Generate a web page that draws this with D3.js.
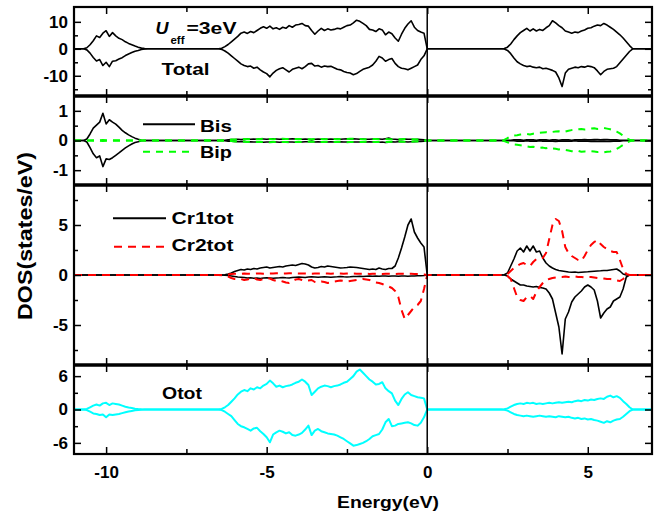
<!DOCTYPE html>
<html><head><meta charset="utf-8">
<script src="https://cdn.jsdelivr.net/npm/d3@7"></script>
<style>body{margin:0;background:#fff}svg{display:block}text{font-family:"Liberation Sans",Arial,sans-serif}</style>
</head><body><svg id="c" width="659" height="515"></svg>
<script>
// energy grid (eV): -11, segment -10.7..-8.7, segment -6.5..0, segment 2.3..6.4, 7
const energy = [-11,
  ...d3.range(-107, -86).map(v => v / 10),
  ...d3.range(-65, 1).map(v => v / 10),
  ...d3.range(23, 65).map(v => v / 10),
  7];

const xTicksMajor = [-10, -5, 0, 5];
const xTicksMinor = [-7.5, -2.5, 2.5];

// Total DOS
const totalUp = [0,
 0,0.4,1.5,3.0,4.8,4.2,5.8,6.7,4.6,6.0,4.8,3.9,3.4,2.6,2.0,1.5,1.0,0.6,0.25,0.08,0,
 0,0.2,0.8,1.6,2.6,3.6,4.6,5.8,6.2,5.7,6.4,6.0,6.8,7.6,8.2,7.6,8.4,7.4,7.8,7.2,8.0,7.6,8.6,8.0,8.8,9.0,9.4,8.6,8.4,6.8,5.4,6.6,7.6,6.8,7.4,7.0,7.2,7.6,7.4,8.0,8.6,8.8,9.6,10.6,10.2,9.4,8.6,7.2,7.0,6.4,7.4,7.0,5.2,6.2,5.6,4.0,2.8,5.4,7.6,9.2,10.4,8.0,6.8,6.2,5.8,0,
 0,0.1,0.6,1.8,3.4,4.8,6.0,6.8,7.6,6.6,7.4,6.6,7.2,6.8,7.8,8.6,10.4,9.6,8.6,7.8,6.6,6.2,5.8,6.2,6.0,6.6,7.0,7.6,7.8,8.4,8.8,8.6,9.4,8.8,8.0,7.2,6.2,5.2,4.0,2.6,1.2,0,
 0];
const totalDn = [0,
 0,-0.4,-1.6,-3.2,-4.5,-4.0,-6.2,-5.0,-6.6,-4.6,-4.4,-3.8,-3.3,-2.5,-1.9,-1.4,-0.9,-0.6,-0.25,-0.08,0,
 0,-0.2,-0.8,-1.6,-2.6,-3.6,-4.6,-5.6,-6.2,-6.6,-6.4,-7.2,-6.8,-7.8,-8.6,-9.2,-10.4,-9.0,-8.0,-7.4,-7.0,-7.8,-8.6,-7.6,-7.2,-6.8,-7.4,-6.6,-5.6,-5.4,-6.4,-6.2,-6.8,-6.4,-6.6,-6.5,-7.0,-7.6,-7.8,-8.4,-8.8,-9.0,-9.6,-9.2,-8.4,-7.6,-7.2,-6.8,-6.0,-4.6,-2.8,-3.4,-4.6,-4.0,-3.6,-5.4,-6.6,-7.2,-7.4,-7.8,-7.2,-6.6,-6.0,-4.0,-2.6,0,
 0,-0.1,-0.6,-1.8,-3.4,-4.8,-5.6,-6.2,-6.6,-6.4,-6.8,-7.0,-6.8,-7.4,-7.2,-7.6,-8.0,-8.6,-10.8,-14.0,-9.0,-7.6,-7.2,-6.8,-7.0,-6.6,-6.8,-6.4,-6.6,-7.0,-8.2,-9.6,-8.4,-7.6,-7.4,-7.2,-6.6,-5.2,-3.8,-2.4,-1.0,0,
 0];

// Bi s / Bi p
const bisUp = [0,
 0,0.05,0.22,0.42,0.52,0.62,0.92,0.56,0.70,0.62,0.55,0.45,0.34,0.26,0.19,0.13,0.08,0.04,0.01,0,0,
 0,0,0.01,0.02,0.03,0.03,0.04,0.03,0.04,0.05,0.04,0.05,0.04,0.06,0.05,0.04,0.05,0.06,0.05,0.04,0.05,0.04,0.05,0.06,0.05,0.05,0.04,0.05,0.04,0.03,0.04,0.05,0.04,0.05,0.04,0.05,0.04,0.05,0.04,0.05,0.06,0.05,0.06,0.05,0.04,0.05,0.04,0.04,0.05,0.06,0.05,0.04,0.06,0.08,0.05,0.04,0.03,0.04,0.05,0.04,0.04,0.03,0.04,0.03,0.02,0,
 0,0,0.01,0.01,0.02,0.02,0.02,0.01,0.02,0.02,0.02,0.01,0.02,0.02,0.02,0.01,0.02,0.02,0.01,0.02,0.02,0.02,0.01,0.02,0.02,0.02,0.03,0.02,0.02,0.03,0.03,0.02,0.03,0.03,0.02,0.02,0.02,0.01,0.01,0.01,0,0,
 0];
const bisDn = [0,
 0,-0.05,-0.24,-0.45,-0.58,-0.52,-0.88,-0.62,-0.64,-0.58,-0.50,-0.42,-0.33,-0.25,-0.18,-0.12,-0.07,-0.04,-0.01,0,0,
 0,0,-0.01,-0.02,-0.02,-0.03,-0.04,-0.04,-0.03,-0.05,-0.04,-0.05,-0.05,-0.04,-0.06,-0.05,-0.05,-0.04,-0.05,-0.06,-0.05,-0.04,-0.05,-0.05,-0.06,-0.04,-0.05,-0.04,-0.04,-0.03,-0.05,-0.04,-0.05,-0.04,-0.05,-0.04,-0.05,-0.05,-0.04,-0.05,-0.05,-0.06,-0.05,-0.05,-0.05,-0.04,-0.05,-0.04,-0.05,-0.05,-0.06,-0.05,-0.07,-0.06,-0.04,-0.05,-0.04,-0.03,-0.04,-0.05,-0.04,-0.04,-0.03,-0.03,-0.02,0,
 0,0,-0.01,-0.01,-0.01,-0.02,-0.02,-0.02,-0.01,-0.02,-0.02,-0.02,-0.01,-0.02,-0.02,-0.02,-0.02,-0.03,-0.02,-0.02,-0.02,-0.02,-0.02,-0.01,-0.02,-0.02,-0.02,-0.02,-0.03,-0.02,-0.03,-0.03,-0.02,-0.03,-0.03,-0.02,-0.02,-0.02,-0.01,-0.01,0,0,
 0];
const bipUp = [0,
 0,0,0,0.01,0.01,0.01,0.02,0.01,0.01,0.01,0.01,0.01,0,0,0,0,0,0,0,0,0,
 0,0.01,0.01,0.02,0.03,0.03,0.04,0.04,0.05,0.04,0.05,0.05,0.04,0.05,0.06,0.05,0.05,0.04,0.05,0.05,0.06,0.05,0.05,0.06,0.05,0.05,0.05,0.04,0.04,0.04,0.05,0.05,0.05,0.04,0.05,0.05,0.05,0.04,0.05,0.05,0.05,0.06,0.06,0.05,0.05,0.04,0.04,0.05,0.05,0.05,0.04,0.05,0.05,0.04,0.04,0.03,0.04,0.04,0.05,0.04,0.04,0.04,0.03,0.03,0.02,0,
 0,0.02,0.08,0.15,0.17,0.18,0.20,0.21,0.22,0.20,0.23,0.25,0.26,0.27,0.28,0.26,0.29,0.30,0.31,0.29,0.30,0.33,0.35,0.36,0.38,0.39,0.37,0.38,0.40,0.41,0.39,0.40,0.42,0.40,0.38,0.35,0.30,0.24,0.16,0.08,0.03,0,
 0];
const bipDn = [0,
 0,0,0,-0.01,-0.01,-0.01,-0.02,-0.01,-0.01,-0.01,-0.01,-0.01,0,0,0,0,0,0,0,0,0,
 0,-0.01,-0.01,-0.02,-0.02,-0.03,-0.03,-0.04,-0.04,-0.05,-0.04,-0.05,-0.05,-0.04,-0.05,-0.05,-0.06,-0.05,-0.05,-0.04,-0.05,-0.05,-0.06,-0.05,-0.05,-0.04,-0.05,-0.05,-0.04,-0.04,-0.04,-0.05,-0.05,-0.05,-0.04,-0.05,-0.05,-0.05,-0.04,-0.05,-0.06,-0.05,-0.05,-0.06,-0.05,-0.05,-0.04,-0.04,-0.05,-0.05,-0.05,-0.04,-0.05,-0.05,-0.04,-0.04,-0.03,-0.04,-0.04,-0.05,-0.04,-0.03,-0.03,-0.03,-0.02,0,
 0,-0.02,-0.06,-0.10,-0.13,-0.14,-0.16,-0.18,-0.20,-0.22,-0.21,-0.23,-0.25,-0.24,-0.26,-0.23,-0.27,-0.28,-0.30,-0.29,-0.32,-0.34,-0.36,-0.37,-0.35,-0.38,-0.37,-0.38,-0.36,-0.37,-0.39,-0.38,-0.40,-0.38,-0.37,-0.33,-0.28,-0.22,-0.15,-0.08,-0.03,0,
 0];

// Cr1 / Cr2 total
const cr1Up = [0,
 0,0,0,0,0,0,0,0,0,0,0,0,0,0,0,0,0,0,0,0,0,
 0,0,0.02,0.1,0.2,0.35,0.45,0.55,0.5,0.6,0.55,0.65,0.6,0.7,0.75,0.8,0.7,0.75,0.8,0.85,0.8,0.9,0.95,1.0,0.95,1.05,1.15,1.1,1.0,0.8,0.7,0.75,0.85,0.8,0.9,0.85,0.8,0.75,0.7,0.72,0.75,0.8,0.78,0.75,0.7,0.65,0.6,0.55,0.6,0.55,0.7,0.6,0.55,0.65,0.65,0.9,1.7,2.7,3.8,5.0,5.6,4.3,3.7,3.2,2.8,0,
 0,0.02,0.2,0.9,1.6,2.4,2.7,2.3,2.9,2.4,2.9,2.3,2.4,1.7,1.2,0.9,0.7,0.55,0.45,0.4,0.35,0.3,0.28,0.3,0.25,0.28,0.3,0.32,0.35,0.38,0.4,0.42,0.45,0.45,0.5,0.55,0.6,0.4,0.1,0,0,0,
 0];
const cr1Dn = [0,
 0,0,0,0,0,0,0,0,0,0,0,0,0,0,0,0,0,0,0,0,0,
 0,0,-0.02,-0.05,-0.1,-0.15,-0.2,-0.22,-0.25,-0.3,-0.28,-0.32,-0.3,-0.35,-0.3,-0.28,-0.3,-0.32,-0.3,-0.28,-0.25,-0.28,-0.3,-0.25,-0.22,-0.2,-0.22,-0.25,-0.2,-0.18,-0.2,-0.22,-0.2,-0.18,-0.2,-0.22,-0.2,-0.18,-0.15,-0.18,-0.2,-0.18,-0.15,-0.15,-0.12,-0.15,-0.12,-0.1,-0.12,-0.1,-0.12,-0.1,-0.1,-0.12,-0.1,-0.1,-0.12,-0.1,-0.1,-0.12,-0.1,-0.1,-0.08,-0.08,-0.05,0,
 0,0,-0.1,-0.4,-0.6,-0.8,-1.0,-1.0,-1.1,-1.15,-1.2,-1.15,-1.25,-1.3,-1.4,-1.8,-2.4,-3.8,-5.2,-7.9,-4.4,-3.7,-2.7,-2.2,-1.9,-1.6,-1.2,-1.0,-1.2,-1.5,-2.6,-4.3,-3.8,-3.4,-3.2,-2.6,-2.4,-2.2,-1.4,-0.2,0,0,
 0];
const cr2Up = [0,
 0,0,0,0,0,0,0,0,0,0,0,0,0,0,0,0,0,0,0,0,0,
 0,0.01,0.03,0.06,0.1,0.12,0.14,0.12,0.15,0.13,0.12,0.14,0.16,0.15,0.13,0.12,0.14,0.15,0.17,0.16,0.14,0.15,0.17,0.18,0.16,0.15,0.14,0.16,0.15,0.13,0.14,0.15,0.16,0.15,0.14,0.13,0.14,0.15,0.14,0.13,0.14,0.15,0.14,0.13,0.12,0.13,0.12,0.11,0.12,0.13,0.12,0.11,0.12,0.13,0.12,0.11,0.12,0.13,0.12,0.11,0.12,0.11,0.1,0.09,0.06,0,
 0,0,0.1,0.4,0.7,0.9,1.1,1.2,1.0,0.9,1.3,1.6,1.7,1.7,2.2,3.6,5.0,5.6,5.4,4.4,2.8,2.2,1.9,1.7,1.5,1.4,1.9,2.5,3.0,3.3,3.5,3.1,2.8,2.6,2.4,2.3,2.3,1.5,0.6,0.1,0,0,
 0];
const cr2Dn = [0,
 0,0,0,0,0,0,0,0,0,0,0,0,0,0,0,0,0,0,0,0,0,
 0,-0.02,-0.05,-0.15,-0.3,-0.4,-0.45,-0.4,-0.5,-0.45,-0.35,-0.3,-0.45,-0.5,-0.4,-0.3,-0.35,-0.5,-0.6,-0.55,-0.65,-0.75,-0.8,-0.6,-0.45,-0.4,-0.5,-0.6,-0.55,-0.5,-0.7,-0.75,-0.65,-0.7,-0.8,-0.75,-0.65,-0.6,-0.55,-0.6,-0.65,-0.6,-0.55,-0.5,-0.45,-0.4,-0.45,-0.5,-0.6,-0.75,-0.8,-0.9,-1.05,-1.15,-1.3,-1.6,-2.2,-3.5,-4.4,-4.0,-3.6,-3.2,-3.0,-2.6,-1.4,0,
 0,0,-0.1,-0.4,-1.3,-2.2,-2.5,-2.6,-2.2,-2.1,-2.4,-1.7,-1.2,-0.8,-0.5,-0.4,-0.3,-0.25,-0.2,-0.2,-0.15,-0.2,-0.2,-0.15,-0.2,-0.2,-0.25,-0.2,-0.2,-0.25,-0.3,-0.3,-0.35,-0.4,-0.4,-0.45,-0.55,-0.6,-0.4,-0.1,0,0,
 0];

// O total
const oUp = [0,
 0,0.1,0.4,0.7,0.9,0.7,1.1,1.2,0.8,1.1,1.0,0.9,0.7,0.5,0.35,0.25,0.15,0.08,0.03,0,0,
 0,0.1,0.4,0.8,1.4,2.0,2.7,3.2,3.5,3.3,3.8,3.6,4.0,3.8,4.3,4.6,5.2,4.7,4.1,4.3,4.0,4.2,4.3,4.5,4.8,5.0,5.4,5.0,4.4,2.6,3.2,3.8,4.1,4.3,4.2,4.0,4.2,4.3,4.5,4.8,5.0,5.5,6.0,6.8,7.2,6.6,6.0,5.4,5.0,4.5,4.6,4.9,3.8,3.3,2.9,1.6,0.8,1.9,2.7,3.1,2.6,2.4,2.2,2.1,2.0,0,
 0,0.05,0.2,0.5,0.8,1.0,1.1,1.0,1.2,1.1,1.2,1.0,1.1,1.0,1.1,1.2,1.1,1.2,1.3,1.2,1.3,1.4,1.3,1.5,1.6,1.5,1.7,1.6,1.8,1.7,1.9,2.0,1.9,2.3,2.5,2.2,2.4,2.1,1.5,1.0,0.4,0,
 0];
const oDn = [0,
 0,-0.1,-0.4,-0.7,-0.8,-1.0,-0.9,-1.4,-0.9,-1.0,-0.9,-0.8,-0.65,-0.5,-0.35,-0.25,-0.15,-0.08,-0.03,0,0,
 0,-0.1,-0.4,-0.8,-1.2,-1.9,-2.6,-3.0,-3.2,-3.5,-3.8,-3.4,-3.3,-3.9,-4.4,-5.0,-5.9,-4.5,-4.1,-3.8,-4.0,-4.3,-4.1,-4.6,-4.7,-4.5,-4.2,-3.6,-2.9,-4.6,-3.8,-3.5,-3.9,-4.1,-4.3,-4.4,-4.5,-4.7,-5.0,-5.3,-5.7,-6.1,-6.5,-6.4,-6.2,-6.0,-5.7,-5.3,-4.8,-4.6,-4.4,-3.6,-2.3,-1.7,-3.0,-2.9,-2.6,-2.5,-2.4,-2.3,-2.5,-2.8,-2.9,-2.4,-1.4,0,
 0,-0.05,-0.2,-0.5,-0.8,-1.0,-1.1,-1.2,-1.1,-1.2,-1.3,-1.2,-1.1,-1.2,-1.3,-1.2,-1.3,-1.4,-1.2,-1.3,-1.4,-1.3,-1.5,-1.6,-1.5,-1.7,-1.6,-1.8,-1.7,-1.9,-2.0,-2.2,-2.4,-2.1,-2.3,-2.0,-1.8,-1.7,-1.3,-0.8,-0.3,0,
 0];

// y-axis ticks per panel
const p1Major = [-10, 0, 10], p1Minor = [-15, -5, 5, 15];
const p2Major = [-1, 0, 1],   p2Minor = [-0.5, 0.5];
const p3Major = [-5, 0, 5],   p3Minor = [-7.5, -2.5, 2.5, 7.5];
const p4Major = [-6, 0, 6],   p4Minor = [-3, 3];

const BLACK = "#000", GREEN = "#00ff00", RED = "#ff0000", CYAN = "#00ffff";

const L = 74, R = 652;
const x = d3.scaleLinear().domain([-11, 7]).range([L, R]);

const panels = [
  {top: 7,   bottom: 96,  domain: [-17.5, 15.5], major: p1Major, minor: p1Minor,
   series: [{up: totalUp, dn: totalDn, color: BLACK, w: 1.6}]},
  {top: 96,  bottom: 185, domain: [-1.5, 1.5], major: p2Major, minor: p2Minor,
   series: [{up: bisUp, dn: bisDn, color: BLACK, w: 1.6}, {up: bipUp, dn: bipDn, color: GREEN, w: 2, dash: "7,6"}]},
  {top: 185, bottom: 365, domain: [-9, 9], major: p3Major, minor: p3Minor,
   series: [{up: cr1Up, dn: cr1Dn, color: BLACK, w: 1.6}, {up: cr2Up, dn: cr2Dn, color: RED, w: 2, dash: "8,6"}]},
  {top: 365, bottom: 454, domain: [-8, 8], major: p4Major, minor: p4Minor,
   series: [{up: oUp, dn: oDn, color: CYAN, w: 2}]}
];

const svg = d3.select("#c");
const fmt = d => String(d);

panels.forEach((p, pi) => {
  const y = d3.scaleLinear().domain(p.domain).range([p.bottom, p.top]);
  const g = svg.append("g");
  const line = d3.line().x(d => x(d[0])).y(d => y(d[1]));
  p.series.forEach(s => {
    [s.up, s.dn].forEach(arr => {
      g.append("path")
        .datum(energy.map((e, i) => [e, arr[i]]))
        .attr("d", line)
        .attr("fill", "none")
        .attr("stroke", s.color)
        .attr("stroke-width", s.w)
        .attr("stroke-linejoin", "round")
        .attr("stroke-dasharray", s.dash || null);
    });
  });

  // y ticks left (inward) with labels
  const yl = svg.append("g").attr("transform", `translate(${L},0)`)
    .call(d3.axisLeft(y).tickValues(p.major).tickSize(-7).tickPadding(6).tickFormat(fmt));
  const ylm = svg.append("g").attr("transform", `translate(${L},0)`)
    .call(d3.axisLeft(y).tickValues(p.minor.filter(v => y(v) > p.top + 2 && y(v) < p.bottom - 2)).tickSize(-4).tickFormat(""));
  const yr = svg.append("g").attr("transform", `translate(${R},0)`)
    .call(d3.axisRight(y).tickValues(p.major).tickSize(-7).tickFormat(""));
  const yrm = svg.append("g").attr("transform", `translate(${R},0)`)
    .call(d3.axisRight(y).tickValues(p.minor.filter(v => y(v) > p.top + 2 && y(v) < p.bottom - 2)).tickSize(-4).tickFormat(""));
  // x ticks top and bottom (inward)
  const xt = svg.append("g").attr("transform", `translate(0,${p.top})`)
    .call(d3.axisTop(x).tickValues(xTicksMajor).tickSize(-7).tickFormat(""));
  const xtm = svg.append("g").attr("transform", `translate(0,${p.top})`)
    .call(d3.axisTop(x).tickValues(xTicksMinor).tickSize(-5).tickFormat(""));
  const xb = svg.append("g").attr("transform", `translate(0,${p.bottom})`)
    .call(d3.axisBottom(x).tickValues(xTicksMajor).tickSize(-7).tickPadding(12)
      .tickFormat(pi === panels.length - 1 ? fmt : ""));
  const xbm = svg.append("g").attr("transform", `translate(0,${p.bottom})`)
    .call(d3.axisBottom(x).tickValues(xTicksMinor).tickSize(-5).tickFormat(""));
  [yl, ylm, yr, yrm, xt, xtm, xb, xbm].forEach(a => {
    a.select(".domain").remove();
    a.selectAll(".tick line").attr("stroke", "#000").attr("stroke-width", 1.5);
    a.selectAll(".tick text").attr("font-family", "Liberation Sans, Arial, sans-serif")
      .attr("font-size", 17).attr("font-weight", "bold").attr("fill", "#000");
  });
});

// vertical line at Fermi level
svg.append("line").attr("x1", x(0)).attr("x2", x(0)).attr("y1", 7).attr("y2", 454)
  .attr("stroke", "#000").attr("stroke-width", 1.5);

// frame
svg.append("rect").attr("x", L).attr("y", 7).attr("width", R - L).attr("height", 454 - 7)
  .attr("fill", "none").attr("stroke", "#000").attr("stroke-width", 2.2);
[96, 185, 365].forEach(yy => {
  svg.append("line").attr("x1", L).attr("x2", R).attr("y1", yy).attr("y2", yy)
    .attr("stroke", "#000").attr("stroke-width", 3.6);
});

// texts
function txt(s, xx, yy, opts = {}) {
  const t = svg.append("text").attr("x", xx).attr("y", yy).text(s)
    .attr("font-size", opts.size || 17).attr("font-weight", opts.weight || "bold")
    .attr("fill", "#000").attr("text-anchor", opts.anchor || "start");
  if (opts.len) t.attr("textLength", opts.len).attr("lengthAdjust", "spacingAndGlyphs");
  if (opts.italic) t.attr("font-style", "italic");
  return t;
}
txt("U", 155.5, 34, {size: 17, italic: true, len: 13});
txt("eff", 170.5, 43.5, {size: 10, len: 14});
txt("=3eV", 186.5, 34, {size: 17, len: 50});
txt("Total", 161.5, 75, {size: 17, len: 48});

// legends
const legendItems = [
  {label: "Bis", color: BLACK, dash: null, x1: 143, x2: 195, ly: 124.3, tx: 200, ty: 131.5, len: 32},
  {label: "Bip", color: GREEN, dash: "7,6", x1: 143, x2: 195, ly: 151.7, tx: 200, ty: 157.5, len: 32},
  {label: "Cr1tot", color: BLACK, dash: null, x1: 113, x2: 166, ly: 218.3, tx: 171.5, ty: 223.5, len: 62},
  {label: "Cr2tot", color: RED, dash: "8,6", x1: 114, x2: 167, ly: 246.7, tx: 171.5, ty: 250.5, len: 62}
];
legendItems.forEach(d => {
  svg.append("line").attr("x1", d.x1).attr("x2", d.x2).attr("y1", d.ly).attr("y2", d.ly)
    .attr("stroke", d.color).attr("stroke-width", 2).attr("stroke-dasharray", d.dash);
  txt(d.label, d.tx, d.ty, {size: 17, len: d.len});
});
txt("Otot", 162, 399, {size: 17, len: 40});

// axis titles
txt("Energy(eV)", 388, 508, {size: 17, anchor: "middle", len: 102});
svg.append("text").attr("transform", "translate(32,236) rotate(-90)")
  .attr("text-anchor", "middle").attr("font-size", 20).attr("font-weight", "bold")
  .attr("textLength", 168).attr("lengthAdjust", "spacingAndGlyphs").text("DOS(states/eV)");
</script>
</body></html>
